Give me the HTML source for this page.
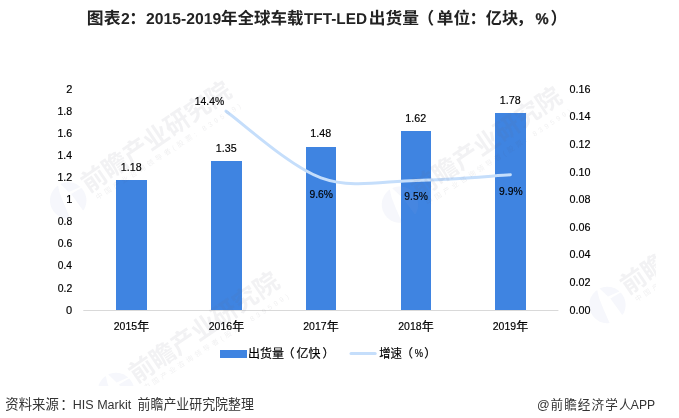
<!DOCTYPE html>
<html lang="zh-CN"><head><meta charset="utf-8"><title>图表2：2015-2019年全球车载TFT-LED出货量</title>
<style>
html,body{margin:0;padding:0;background:#fff;}
body{width:679px;height:418px;overflow:hidden;position:relative;font-family:"Liberation Sans","Noto Sans CJK SC",sans-serif;}
body>svg{position:absolute;left:0;top:0;display:block;}
text{font-family:"Liberation Sans","Noto Sans CJK SC",sans-serif;fill:#000;}
.l text{stroke:#000;stroke-width:0.18px;}
.h{fill:#222;text-rendering:geometricPrecision;}
.f{fill:#333;}
text.wm{fill:#6e6e7d;}
text.ws{fill:#565662;}
</style></head><body>
<svg width="679" height="418" viewBox="0 0 679 418">
<rect width="679" height="418" fill="#fff"/>
<g id="title">
<text class="h"><tspan x="86.84" y="24" font-size="16.67px" font-weight="700" textLength="33.65" lengthAdjust="spacingAndGlyphs">图表</tspan><tspan x="121.12" y="24" font-size="15.8px" font-weight="700">2</tspan><tspan x="129.18" y="24" font-size="16.67px" font-weight="700">：</tspan><tspan x="146.00" y="24" font-size="15.8px" font-weight="700" textLength="75.14" lengthAdjust="spacingAndGlyphs">2015-2019</tspan><tspan x="220.96" y="24" font-size="16.67px" font-weight="700" textLength="82.53" lengthAdjust="spacingAndGlyphs">年全球车载</tspan><tspan x="303.96" y="24" font-size="15.8px" font-weight="700" textLength="63.01" lengthAdjust="spacingAndGlyphs">TFT-LED</tspan><tspan x="368.70" y="24" font-size="16.67px" font-weight="700" textLength="50.16" lengthAdjust="spacingAndGlyphs">出货量</tspan><tspan x="417.48" y="24" font-size="16.67px" font-weight="700">（</tspan><tspan x="436.85" y="24" font-size="16.67px" font-weight="700" textLength="33.39" lengthAdjust="spacingAndGlyphs">单位</tspan><tspan x="469.38" y="24" font-size="16.67px" font-weight="700">：</tspan><tspan x="485.86" y="24" font-size="16.67px" font-weight="700" textLength="32.31" lengthAdjust="spacingAndGlyphs">亿块</tspan><tspan x="516.47" y="24" font-size="16.67px" font-weight="700">，</tspan><tspan x="535.53" y="24" font-size="15.6px" font-weight="700" textLength="13.12" lengthAdjust="spacingAndGlyphs" stroke="#222" stroke-width="0.3">%</tspan><tspan x="550.40" y="24" font-size="16.67px" font-weight="700">）</tspan></text>
</g>
<rect x="83.3" y="310" width="475.1" height="1" fill="#d9d9d9"/>
<g id="bars">
<rect x="116" y="180" width="31" height="130" fill="#3F84E1"/>
<rect x="211" y="161" width="31" height="149" fill="#3F84E1"/>
<rect x="306" y="147" width="30" height="163" fill="#3F84E1"/>
<rect x="401" y="131" width="30" height="179" fill="#3F84E1"/>
<rect x="495" y="113" width="31" height="197" fill="#3F84E1"/>
</g>
<path d="M226.0,111.2 C241.8,122.3 289.3,166.3 321.0,177.8 C352.7,189.3 384.4,180.9 416.0,180.4 C447.6,179.9 494.7,175.7 510.4,174.8" fill="none" stroke="#C5DEFB" stroke-width="3" stroke-linecap="round" stroke-linejoin="round"/>
<g id="yaxis-left" class="l">
<text x="65.95" y="314" font-size="11px">0</text>
<text x="57.73" y="292" font-size="11px" textLength="14.49" lengthAdjust="spacingAndGlyphs">0.2</text>
<text x="57.73" y="269" font-size="11px" textLength="14.24" lengthAdjust="spacingAndGlyphs">0.4</text>
<text x="57.73" y="247" font-size="11px" textLength="14.49" lengthAdjust="spacingAndGlyphs">0.6</text>
<text x="57.73" y="225" font-size="11px" textLength="14.49" lengthAdjust="spacingAndGlyphs">0.8</text>
<text x="66.20" y="203" font-size="11px">1</text>
<text x="57.48" y="181" font-size="11px" textLength="14.75" lengthAdjust="spacingAndGlyphs">1.2</text>
<text x="57.49" y="159" font-size="11px" textLength="14.49" lengthAdjust="spacingAndGlyphs">1.4</text>
<text x="57.48" y="137" font-size="11px" textLength="14.75" lengthAdjust="spacingAndGlyphs">1.6</text>
<text x="57.48" y="115" font-size="11px" textLength="14.75" lengthAdjust="spacingAndGlyphs">1.8</text>
<text x="66.20" y="93" font-size="11px">2</text>
</g>
<g id="yaxis-right" class="l">
<text x="569.41" y="314" font-size="11px" textLength="20.99" lengthAdjust="spacingAndGlyphs">0.00</text>
<text x="569.41" y="286" font-size="11px" textLength="20.99" lengthAdjust="spacingAndGlyphs">0.02</text>
<text x="569.41" y="258" font-size="11px" textLength="20.99" lengthAdjust="spacingAndGlyphs">0.04</text>
<text x="569.41" y="231" font-size="11px" textLength="20.99" lengthAdjust="spacingAndGlyphs">0.06</text>
<text x="569.41" y="203" font-size="11px" textLength="20.99" lengthAdjust="spacingAndGlyphs">0.08</text>
<text x="569.41" y="176" font-size="11px" textLength="20.99" lengthAdjust="spacingAndGlyphs">0.10</text>
<text x="569.41" y="148" font-size="11px" textLength="20.99" lengthAdjust="spacingAndGlyphs">0.12</text>
<text x="569.41" y="120" font-size="11px" textLength="20.99" lengthAdjust="spacingAndGlyphs">0.14</text>
<text x="569.41" y="93" font-size="11px" textLength="20.99" lengthAdjust="spacingAndGlyphs">0.16</text>
</g>
<g id="xaxis" class="l">
<text><tspan x="113.72" y="330" font-size="11px" textLength="23.33" lengthAdjust="spacingAndGlyphs">2015</tspan><tspan x="137.15" y="331" font-size="12px">年</tspan></text>
<text><tspan x="208.72" y="330" font-size="11px" textLength="23.33" lengthAdjust="spacingAndGlyphs">2016</tspan><tspan x="232.15" y="331" font-size="12px">年</tspan></text>
<text><tspan x="303.22" y="330" font-size="11px" textLength="23.33" lengthAdjust="spacingAndGlyphs">2017</tspan><tspan x="326.65" y="331" font-size="12px">年</tspan></text>
<text><tspan x="398.22" y="330" font-size="11px" textLength="23.33" lengthAdjust="spacingAndGlyphs">2018</tspan><tspan x="421.65" y="331" font-size="12px">年</tspan></text>
<text><tspan x="492.72" y="330" font-size="11px" textLength="23.33" lengthAdjust="spacingAndGlyphs">2019</tspan><tspan x="516.15" y="331" font-size="12px">年</tspan></text>
</g>
<g id="values" class="l">
<text x="120.87" y="171" font-size="11px" textLength="20.83" lengthAdjust="spacingAndGlyphs">1.18</text>
<text x="215.87" y="152" font-size="11px" textLength="20.83" lengthAdjust="spacingAndGlyphs">1.35</text>
<text x="310.37" y="137" font-size="11px" textLength="20.83" lengthAdjust="spacingAndGlyphs">1.48</text>
<text x="405.37" y="122" font-size="11px" textLength="20.83" lengthAdjust="spacingAndGlyphs">1.62</text>
<text x="499.87" y="104" font-size="11px" textLength="20.83" lengthAdjust="spacingAndGlyphs">1.78</text>
</g>
<g id="rates" class="l">
<text x="194.79" y="105" font-size="11px" textLength="29.32" lengthAdjust="spacingAndGlyphs">14.4%</text>
<text x="309.43" y="198" font-size="11px" textLength="23.47" lengthAdjust="spacingAndGlyphs">9.6%</text>
<text x="404.33" y="200" font-size="11px" textLength="23.47" lengthAdjust="spacingAndGlyphs">9.5%</text>
<text x="499.03" y="195" font-size="11px" textLength="23.57" lengthAdjust="spacingAndGlyphs">9.9%</text>
</g>
<g id="legend" class="l">
<rect x="220" y="350" width="27" height="8" fill="#3F84E1"/>
<text><tspan x="247.95" y="358.3" font-size="12px">出货量</tspan><tspan x="282.60" y="358.3" font-size="12px">（</tspan><tspan x="296.60" y="358.3" font-size="12px" textLength="23.90" lengthAdjust="spacingAndGlyphs">亿快</tspan><tspan x="322.50" y="358.3" font-size="12px">）</tspan></text>
<path d="M351,353.6 H375.2" stroke="#C5DEFB" stroke-width="3" stroke-linecap="round" fill="none"/>
<text><tspan x="379.23" y="358.3" font-size="12px" textLength="22.75" lengthAdjust="spacingAndGlyphs">增速</tspan><tspan x="400.90" y="358.3" font-size="12px">（</tspan><tspan x="414.68" y="357" font-size="11px" textLength="8.26" lengthAdjust="spacingAndGlyphs">%</tspan><tspan x="424.30" y="358.3" font-size="12px">）</tspan></text>
</g>
<g id="footer">
<text class="f"><tspan x="5.36" y="409" font-size="13.5px" textLength="53.44" lengthAdjust="spacingAndGlyphs">资料来源</tspan><tspan x="60.15" y="409" font-size="13.5px">：</tspan><tspan x="72.80" y="409" font-size="12.5px" textLength="61.98" lengthAdjust="spacingAndGlyphs">HIS Markit </tspan><tspan x="137.58" y="409" font-size="13.4px" textLength="116.25" lengthAdjust="spacingAndGlyphs">前瞻产业研究院整理</tspan></text>
<text class="f"><tspan x="537.05" y="409" font-size="12.5px">@</tspan><tspan x="550.45" y="409" font-size="12.6px" letter-spacing="1.1">前瞻经济学人</tspan><tspan x="630.80" y="409" font-size="12.4px" textLength="24.25" lengthAdjust="spacingAndGlyphs">APP</tspan></text>
</g>
<svg id="watermark" x="0" y="0" width="656" height="385.5" viewBox="0 0 656 385.5">
<g opacity="0.09">
<path transform="translate(68.2,200.5)" fill="#96a5d7" d="M0.6,18.2 L-0.6,18.2 L-1.9,18.1 L-3.2,17.9 L-4.4,17.7 L-5.6,17.3 L-6.8,16.9 L-8.0,16.4 L-9.1,15.8 L-10.2,15.1 L-11.2,14.3 L-12.2,13.5 L-13.1,12.6 L-13.9,11.7 L-14.7,10.7 L-15.4,9.6 L-16.1,8.5 L-16.6,7.4 L-17.1,6.2 L-17.5,5.0 L-17.8,3.8 L-18.0,2.5 L-18.2,1.3 L-18.2,-0.0 L-18.2,-1.3 L-18.0,-2.5 L-17.8,-3.8 L-17.5,-5.0 L-17.1,-6.2 L-16.6,-7.4 L-16.1,-8.5 L-15.4,-9.6 L-14.7,-10.7 L-13.9,-11.7 L-13.1,-12.6 L-12.2,-13.5 L-11.2,-14.3 L-10.2,-15.1 L-10.2,-15.1 L-8.4,-7.2 L-4.2,3.6 L2.2,18.1 L1.9,18.1 Z M11.2,-14.3 L10.2,-15.1 L9.1,-15.8 L8.0,-16.4 L6.8,-16.9 L5.6,-17.3 L4.4,-17.7 L3.2,-17.9 L1.9,-18.1 L0.6,-18.2 L-0.6,-18.2 L-1.9,-18.1 L-3.2,-17.9 L-4.4,-17.7 L-5.6,-17.3 L-6.8,-16.9 L-7.8,-16.4 L0.6,-8.6 L12.0,-13.6 L12.0,-13.7 Z M3.0,-6.4 L12.6,-12.2 L13.5,-12.2 L13.9,-11.7 L14.7,-10.7 L15.4,-9.6 L16.1,-8.5 L16.6,-7.4 L17.1,-6.2 L17.5,-5.0 L17.8,-3.8 L18.0,-2.5 L18.2,-1.3 L18.2,-0.0 L18.2,1.3 L18.0,2.5 L17.8,3.8 L17.5,5.0 L17.1,6.2 L16.6,7.4 L16.1,8.5 L15.4,9.6 L15.3,9.8 L14.5,9.4 Z"/>
<text class="wm" transform="translate(88.8,193.3) rotate(-34.2)" font-size="25px" font-weight="700">前瞻产业研究院</text>
<text class="ws" transform="translate(97.8,200.0) rotate(-32.9)" font-size="7px" letter-spacing="3.1">中国产业咨询领导者(股票: 839599)</text>
<path transform="translate(116,391)" fill="#96a5d7" d="M0.6,18.2 L-0.6,18.2 L-1.9,18.1 L-3.2,17.9 L-4.4,17.7 L-5.6,17.3 L-6.8,16.9 L-8.0,16.4 L-9.1,15.8 L-10.2,15.1 L-11.2,14.3 L-12.2,13.5 L-13.1,12.6 L-13.9,11.7 L-14.7,10.7 L-15.4,9.6 L-16.1,8.5 L-16.6,7.4 L-17.1,6.2 L-17.5,5.0 L-17.8,3.8 L-18.0,2.5 L-18.2,1.3 L-18.2,-0.0 L-18.2,-1.3 L-18.0,-2.5 L-17.8,-3.8 L-17.5,-5.0 L-17.1,-6.2 L-16.6,-7.4 L-16.1,-8.5 L-15.4,-9.6 L-14.7,-10.7 L-13.9,-11.7 L-13.1,-12.6 L-12.2,-13.5 L-11.2,-14.3 L-10.2,-15.1 L-10.2,-15.1 L-8.4,-7.2 L-4.2,3.6 L2.2,18.1 L1.9,18.1 Z M11.2,-14.3 L10.2,-15.1 L9.1,-15.8 L8.0,-16.4 L6.8,-16.9 L5.6,-17.3 L4.4,-17.7 L3.2,-17.9 L1.9,-18.1 L0.6,-18.2 L-0.6,-18.2 L-1.9,-18.1 L-3.2,-17.9 L-4.4,-17.7 L-5.6,-17.3 L-6.8,-16.9 L-7.8,-16.4 L0.6,-8.6 L12.0,-13.6 L12.0,-13.7 Z M3.0,-6.4 L12.6,-12.2 L13.5,-12.2 L13.9,-11.7 L14.7,-10.7 L15.4,-9.6 L16.1,-8.5 L16.6,-7.4 L17.1,-6.2 L17.5,-5.0 L17.8,-3.8 L18.0,-2.5 L18.2,-1.3 L18.2,-0.0 L18.2,1.3 L18.0,2.5 L17.8,3.8 L17.5,5.0 L17.1,6.2 L16.6,7.4 L16.1,8.5 L15.4,9.6 L15.3,9.8 L14.5,9.4 Z"/>
<text class="wm" transform="translate(136.6,383.8) rotate(-34.2)" font-size="25px" font-weight="700">前瞻产业研究院</text>
<text class="ws" transform="translate(145.6,390.5) rotate(-32.9)" font-size="7px" letter-spacing="3.1">中国产业咨询领导者(股票: 839599)</text>
<path transform="translate(400,204.6)" fill="#96a5d7" d="M0.6,18.2 L-0.6,18.2 L-1.9,18.1 L-3.2,17.9 L-4.4,17.7 L-5.6,17.3 L-6.8,16.9 L-8.0,16.4 L-9.1,15.8 L-10.2,15.1 L-11.2,14.3 L-12.2,13.5 L-13.1,12.6 L-13.9,11.7 L-14.7,10.7 L-15.4,9.6 L-16.1,8.5 L-16.6,7.4 L-17.1,6.2 L-17.5,5.0 L-17.8,3.8 L-18.0,2.5 L-18.2,1.3 L-18.2,-0.0 L-18.2,-1.3 L-18.0,-2.5 L-17.8,-3.8 L-17.5,-5.0 L-17.1,-6.2 L-16.6,-7.4 L-16.1,-8.5 L-15.4,-9.6 L-14.7,-10.7 L-13.9,-11.7 L-13.1,-12.6 L-12.2,-13.5 L-11.2,-14.3 L-10.2,-15.1 L-10.2,-15.1 L-8.4,-7.2 L-4.2,3.6 L2.2,18.1 L1.9,18.1 Z M11.2,-14.3 L10.2,-15.1 L9.1,-15.8 L8.0,-16.4 L6.8,-16.9 L5.6,-17.3 L4.4,-17.7 L3.2,-17.9 L1.9,-18.1 L0.6,-18.2 L-0.6,-18.2 L-1.9,-18.1 L-3.2,-17.9 L-4.4,-17.7 L-5.6,-17.3 L-6.8,-16.9 L-7.8,-16.4 L0.6,-8.6 L12.0,-13.6 L12.0,-13.7 Z M3.0,-6.4 L12.6,-12.2 L13.5,-12.2 L13.9,-11.7 L14.7,-10.7 L15.4,-9.6 L16.1,-8.5 L16.6,-7.4 L17.1,-6.2 L17.5,-5.0 L17.8,-3.8 L18.0,-2.5 L18.2,-1.3 L18.2,-0.0 L18.2,1.3 L18.0,2.5 L17.8,3.8 L17.5,5.0 L17.1,6.2 L16.6,7.4 L16.1,8.5 L15.4,9.6 L15.3,9.8 L14.5,9.4 Z"/>
<text class="wm" transform="translate(419.1,198.8) rotate(-34.2)" font-size="25px" font-weight="700">前瞻产业研究院</text>
<text class="ws" transform="translate(428.1,205.5) rotate(-32.9)" font-size="7px" letter-spacing="3.1">中国产业咨询领导者(股票: 839599)</text>
<path transform="translate(607.4,305)" fill="#96a5d7" d="M0.6,18.2 L-0.6,18.2 L-1.9,18.1 L-3.2,17.9 L-4.4,17.7 L-5.6,17.3 L-6.8,16.9 L-8.0,16.4 L-9.1,15.8 L-10.2,15.1 L-11.2,14.3 L-12.2,13.5 L-13.1,12.6 L-13.9,11.7 L-14.7,10.7 L-15.4,9.6 L-16.1,8.5 L-16.6,7.4 L-17.1,6.2 L-17.5,5.0 L-17.8,3.8 L-18.0,2.5 L-18.2,1.3 L-18.2,-0.0 L-18.2,-1.3 L-18.0,-2.5 L-17.8,-3.8 L-17.5,-5.0 L-17.1,-6.2 L-16.6,-7.4 L-16.1,-8.5 L-15.4,-9.6 L-14.7,-10.7 L-13.9,-11.7 L-13.1,-12.6 L-12.2,-13.5 L-11.2,-14.3 L-10.2,-15.1 L-10.2,-15.1 L-8.4,-7.2 L-4.2,3.6 L2.2,18.1 L1.9,18.1 Z M11.2,-14.3 L10.2,-15.1 L9.1,-15.8 L8.0,-16.4 L6.8,-16.9 L5.6,-17.3 L4.4,-17.7 L3.2,-17.9 L1.9,-18.1 L0.6,-18.2 L-0.6,-18.2 L-1.9,-18.1 L-3.2,-17.9 L-4.4,-17.7 L-5.6,-17.3 L-6.8,-16.9 L-7.8,-16.4 L0.6,-8.6 L12.0,-13.6 L12.0,-13.7 Z M3.0,-6.4 L12.6,-12.2 L13.5,-12.2 L13.9,-11.7 L14.7,-10.7 L15.4,-9.6 L16.1,-8.5 L16.6,-7.4 L17.1,-6.2 L17.5,-5.0 L17.8,-3.8 L18.0,-2.5 L18.2,-1.3 L18.2,-0.0 L18.2,1.3 L18.0,2.5 L17.8,3.8 L17.5,5.0 L17.1,6.2 L16.6,7.4 L16.1,8.5 L15.4,9.6 L15.3,9.8 L14.5,9.4 Z"/>
<text class="wm" transform="translate(628.0,295.3) rotate(-34.2)" font-size="25px" font-weight="700">前瞻产业研究院</text>
<text class="ws" transform="translate(637.0,302.0) rotate(-32.9)" font-size="7px" letter-spacing="3.1">中国产业咨询领导者(股票: 839599)</text>
</g>
</svg>
</svg>
</body></html>
